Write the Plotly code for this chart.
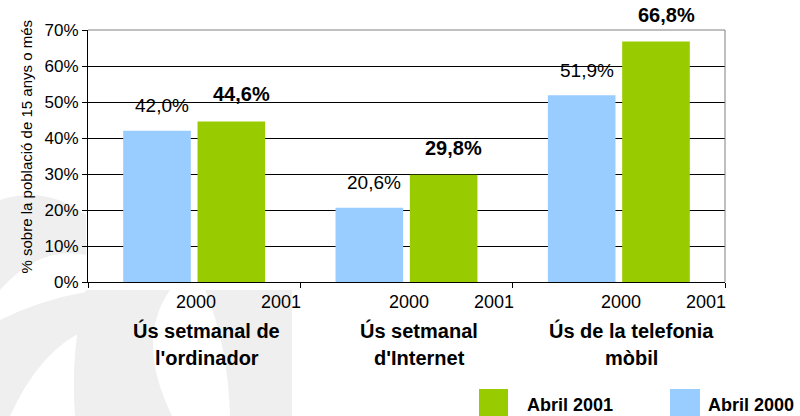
import plotly.graph_objects as go

categories = ["Ús setmanal de\nl'ordinador", "Ús setmanal\nd'Internet", "Ús de la telefonia\nmòbil"]
values_2000 = [42.0, 20.6, 51.9]
values_2001 = [44.6, 29.8, 66.8]
labels_2000 = ["42,0%", "20,6%", "51,9%"]
labels_2001 = ["44,6%", "29,8%", "66,8%"]
year_ticks = ["2000", "2001"]
y_ticks = [0, 10, 20, 30, 40, 50, 60, 70]
y_tick_labels = ["0%", "10%", "20%", "30%", "40%", "50%", "60%", "70%"]
series_names = ["Abril 2000", "Abril 2001"]
y_title = "% sobre la població de 15 anys o més"

BLUE = "#99CCFF"
GREEN = "#99CC00"
WM = "#efefef"
FONT = "Liberation Sans, Arial, sans-serif"

W, H = 800, 416
ML, MR, MT, MB = 88, 75, 30, 134
PW, PH = W - ML - MR, H - MT - MB


def px(x):  # picture x -> paper
    return (x - ML) / PW


def py(y):  # picture y -> paper
    return (H - MB - y) / PH


xs = list(range(len(categories)))

fig = go.Figure()
fig.add_trace(go.Bar(x=xs, y=values_2000, marker=dict(color=BLUE, line=dict(width=0)),
                     name=series_names[0], showlegend=False, hoverinfo="skip"))
fig.add_trace(go.Bar(x=xs, y=values_2001, marker=dict(color=GREEN, line=dict(width=0)),
                     name=series_names[1], showlegend=False, hoverinfo="skip"))

ann = []
for i in xs:
    ann.append(dict(x=i - 0.185, y=values_2000[i], xref="x", yref="y", text=labels_2000[i],
                    showarrow=False, yshift=25, xshift=7,
                    font=dict(family=FONT, size=19, color="#000")))
    ann.append(dict(x=i + 0.185, y=values_2001[i], xref="x", yref="y", text="<b>" + labels_2001[i] + "</b>",
                    showarrow=False, yshift=27, xshift=8,
                    font=dict(family=FONT, size=20, color="#000")))
    ann.append(dict(x=i + 0.01, y=py(302), xref="x", yref="paper", text=year_ticks[0],
                    showarrow=False, yanchor="middle",
                    font=dict(family=FONT, size=18, color="#000")))
    ann.append(dict(x=i + 0.41, y=py(302), xref="x", yref="paper", text=year_ticks[1],
                    showarrow=False, yanchor="middle",
                    font=dict(family=FONT, size=18, color="#000")))
    for j, line in enumerate(categories[i].split("\n")):
        ann.append(dict(x=i + 0.06, y=py(330 + j * 28), xref="x", yref="paper",
                        text="<b>" + line + "</b>", showarrow=False, yanchor="middle",
                        font=dict(family=FONT, size=20, color="#000")))

ann.append(dict(x=px(15), y=py(147), xref="paper", yref="paper", text=y_title, textangle=-90,
                showarrow=False, font=dict(family=FONT, size=15, color="#000")))

ann.append(dict(x=px(525), y=py(405), xref="paper", yref="paper", text="<b>" + series_names[1] + "</b>",
                showarrow=False, xanchor="left", yanchor="middle",
                font=dict(family=FONT, size=18, color="#000")))
ann.append(dict(x=px(706), y=py(405), xref="paper", yref="paper", text="<b>" + series_names[0] + "</b>",
                showarrow=False, xanchor="left", yanchor="middle",
                font=dict(family=FONT, size=18, color="#000")))


def path(points):
    return dict(type="path", xref="paper", yref="paper", layer="below",
                fillcolor=WM, line=dict(width=0), path=points)


def P(x, y):
    return f"{px(x):.4f},{py(y):.4f}"


shapes = [
    # faint watermark swirls behind the chart
    path(f"M {P(0,200)} Q {P(45,185)} {P(86,215)} L {P(86,255)} Q {P(40,245)} {P(0,290)} Z"),
    path(f"M {P(0,320)} Q {P(40,300)} {P(86,292)} L {P(86,330)} Q {P(40,350)} {P(10,416)} L {P(0,416)} Z"),
    path(f"M {P(86,290)} L {P(170,290)} Q {P(135,340)} {P(172,416)} L {P(75,416)} Q {P(70,350)} {P(86,290)} Z"),
    path(f"M {P(205,290)} L {P(292,290)} L {P(292,416)} L {P(230,416)} Q {P(228,345)} {P(205,290)} Z"),
    # custom legend squares
    dict(type="rect", xref="paper", yref="paper", x0=px(479), x1=px(508), y0=py(420), y1=py(389),
         fillcolor=GREEN, line=dict(width=0)),
    dict(type="rect", xref="paper", yref="paper", x0=px(670), x1=px(700), y0=py(420), y1=py(389),
         fillcolor=BLUE, line=dict(width=0)),
    # plot frame top/right (grey)
    dict(type="line", xref="paper", yref="paper", x0=0, x1=1, y0=1, y1=1,
         line=dict(color="#808080", width=1)),
    dict(type="line", xref="paper", yref="paper", x0=1, x1=1, y0=0, y1=1,
         line=dict(color="#808080", width=1)),
]

fig.update_layout(
    width=W, height=H,
    margin=dict(l=ML, r=MR, t=MT, b=MB),
    paper_bgcolor="white", plot_bgcolor="white",
    barmode="group", bargap=0.3, bargroupgap=0.09,
    font=dict(family=FONT, color="#000"),
    annotations=ann, shapes=shapes,
    xaxis=dict(range=[-0.5, len(categories) - 0.5],
               tickvals=[k - 0.5 for k in range(len(categories) + 1)],
               ticktext=[""] * (len(categories) + 1),
               ticks="outside", ticklen=5, tickcolor="#000",
               showline=True, linecolor="#000", linewidth=1,
               showgrid=False, zeroline=False, fixedrange=True),
    yaxis=dict(range=[0, 70], tickvals=y_ticks, ticktext=y_tick_labels,
               ticks="outside", ticklen=5, tickcolor="#000",
               showline=True, linecolor="#000", linewidth=1,
               showgrid=True, gridcolor="#000", gridwidth=1,
               zeroline=False, fixedrange=True,
               tickfont=dict(family=FONT, size=17, color="#000")),
)

fig.write_html("out.html", config={"displayModeBar": False},
               post_script="document.body.style.margin='0';")
